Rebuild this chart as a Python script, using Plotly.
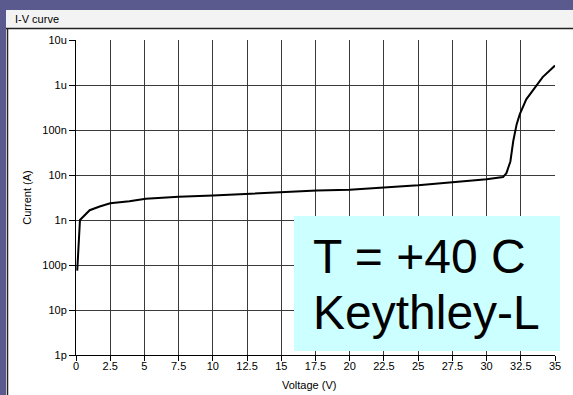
import plotly.graph_objects as go

# ---- data ----
voltage = [0.09, 0.29, 1.0, 1.73, 2.5, 3.9, 5.1, 7.5, 10.0, 13.4, 15.0, 17.6, 20.0,
           22.5, 25.0, 27.5, 30.0, 31.2, 31.45, 31.74, 31.95, 32.2, 32.43, 32.9,
           33.65, 34.1, 35.0]
current = [7.5e-11, 1.0e-9, 1.65e-9, 2.0e-9, 2.35e-9, 2.6e-9, 2.95e-9, 3.3e-9, 3.5e-9,
           3.95e-9, 4.2e-9, 4.5e-9, 4.7e-9, 5.2e-9, 5.9e-9, 6.9e-9, 8.0e-9, 9.0e-9,
           1.1e-8, 2.0e-8, 5.7e-8, 1.35e-7, 2.25e-7, 4.8e-7, 1.0e-6, 1.5e-6, 2.7e-6]

x_tickvals = [0, 2.5, 5, 7.5, 10, 12.5, 15, 17.5, 20, 22.5, 25, 27.5, 30, 32.5, 35]
x_ticktext = ["0", "2.5", "5", "7.5", "10", "12.5", "15", "17.5", "20", "22.5",
              "25", "27.5", "30", "32.5", "35"]
y_tickvals = [1e-12, 1e-11, 1e-10, 1e-9, 1e-8, 1e-7, 1e-6, 1e-5]
y_ticktext = ["1p", "10p", "100p", "1n", "10n", "100n", "1u", "10u"]

window_title = "I-V curve"
label_lines = ["T = +40 C", "Keythley-L"]

# ---- layout geometry (pixels) ----
W, H = 573, 395
L, R, T, B = 76, 18, 40, 40
PW, PH = W - L - R, H - T - B


def px(x):
    return (x - L) / PW


def py(y):
    return (H - B - y) / PH


tick_font = dict(family="Liberation Sans, Arial, sans-serif", size=11, color="black")

fig = go.Figure()
fig.add_trace(go.Scatter(x=voltage, y=current, mode="lines",
                         line=dict(color="black", width=2), showlegend=False,
                         hoverinfo="x+y"))

shapes = [
    # purple window frame
    dict(type="rect", xref="paper", yref="paper", x0=px(0), x1=px(W), y0=py(0), y1=py(10),
         fillcolor="#5b5a8e", line=dict(width=0), layer="below"),
    dict(type="rect", xref="paper", yref="paper", x0=px(0), x1=px(6), y0=py(0), y1=py(H),
         fillcolor="#5b5a8e", line=dict(width=0), layer="below"),
    # title bar
    dict(type="rect", xref="paper", yref="paper", x0=px(6), x1=px(W), y0=py(10), y1=py(28),
         fillcolor="#f3f3f3", line=dict(width=0), layer="below"),
    dict(type="line", xref="paper", yref="paper", x0=px(6), x1=px(W), y0=py(28.5), y1=py(28.5),
         line=dict(color="#222222", width=1.5), layer="below"),
    dict(type="line", xref="paper", yref="paper", x0=px(7.5), x1=px(7.5), y0=py(28.5), y1=py(H),
         line=dict(color="#222222", width=1.5), layer="below"),
    # cyan label box
    dict(type="rect", xref="paper", yref="paper", x0=px(294), x1=px(560), y0=py(216), y1=py(351),
         fillcolor="#ccffff", line=dict(width=0), layer="above"),
]

annotations = [
    dict(text=window_title, xref="paper", yref="paper", x=px(13), y=py(18.5),
         xanchor="left", yanchor="middle", showarrow=False,
         font=dict(family="Liberation Sans, Arial, sans-serif", size=11, color="black")),
    dict(text=label_lines[0], xref="paper", yref="paper", x=px(311), y=py(256),
         xanchor="left", yanchor="middle", showarrow=False,
         font=dict(family="Liberation Sans, Arial, sans-serif", size=48, color="black")),
    dict(text=label_lines[1], xref="paper", yref="paper", x=px(311), y=py(312),
         xanchor="left", yanchor="middle", showarrow=False,
         font=dict(family="Liberation Sans, Arial, sans-serif", size=48, color="black")),
    dict(text="Voltage (V)", xref="paper", yref="paper", x=px(309), y=py(385),
         xanchor="center", yanchor="middle", showarrow=False, font=tick_font),
]

fig.update_layout(
    width=W, height=H,
    margin=dict(l=L, r=R, t=T, b=B, pad=0),
    paper_bgcolor="white", plot_bgcolor="white",
    shapes=shapes, annotations=annotations,
    xaxis=dict(range=[0, 35], tickvals=x_tickvals, ticktext=x_ticktext,
               showgrid=True, gridcolor="#3a3a3a", gridwidth=1,
               showline=True, linecolor="black", linewidth=1,
               ticks="outside", ticklen=5, tickcolor="black", tickfont=tick_font,
               ticklabelstandoff=-4, zeroline=False),
    yaxis=dict(type="log", range=[-12, -5], tickvals=y_tickvals, ticktext=y_ticktext,
               showgrid=True, gridcolor="#3a3a3a", gridwidth=1,
               showline=True, linecolor="black", linewidth=1,
               ticks="outside", ticklen=6, tickcolor="black", tickfont=tick_font,
               zeroline=False,
               title=dict(text="Current (A)", font=tick_font, standoff=8)),
)

fig.write_html("out.html")
